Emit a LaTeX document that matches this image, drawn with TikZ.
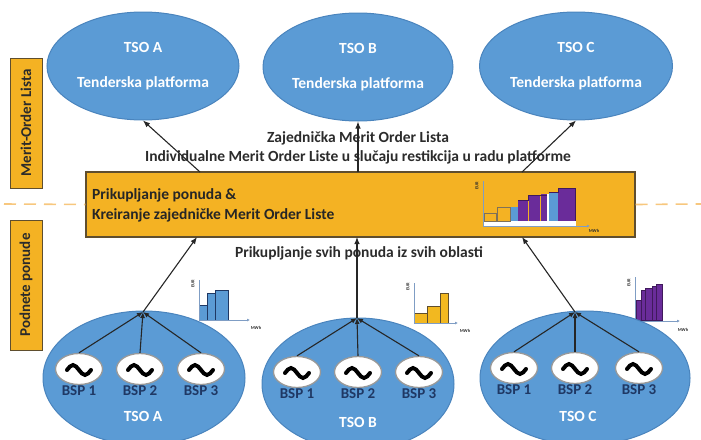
\documentclass[tikz,border=0pt]{standalone}
\usepackage{fontspec}
\setmainfont{Carlito}
\usetikzlibrary{shapes.geometric,arrows.meta}
\definecolor{tsoblue}{HTML}{5B9BD5}
\definecolor{tsoedge}{HTML}{4A84BD}
\definecolor{molorange}{HTML}{F4B223}
\definecolor{moledge}{HTML}{5F4E2E}
\definecolor{bidpurple}{HTML}{6A2C9A}
\definecolor{bidblue}{HTML}{5B9BD5}
\definecolor{bidyellow}{HTML}{F2B820}
\definecolor{bsptext}{HTML}{1F3864}
\definecolor{dashorange}{HTML}{F7C77E}
\definecolor{inktext}{HTML}{2B2B2B}
\definecolor{axisblue}{HTML}{7F9DC4}

\begin{document}
\begin{tikzpicture}[x=1pt,y=-1pt,
    tso/.style={ellipse, fill=tsoblue, draw=tsoedge, line width=1pt, inner sep=0pt,
        text=white, align=center, font=\fontsize{15.5}{17}\selectfont\bfseries},
    areaname/.style={text=white, inner sep=0pt, font=\fontsize{15.5}{17}\selectfont\bfseries},
    bsp/.style={ellipse, fill=white, draw=black!40, line width=1.3pt, inner sep=0pt,
        minimum width=47pt, minimum height=31pt},
    bsplabel/.style={text=bsptext, inner sep=0pt, font=\fontsize{15}{16}\selectfont\bfseries},
    tilde/.style={line width=4pt, line cap=round},
    sidebox/.style={rotate=90, fill=molorange, draw=moledge, line width=1pt,
        minimum width=130pt, minimum height=32pt, inner sep=0pt, text=inktext,
        font=\fontsize{15}{16}\selectfont\bfseries},
    note/.style={text=inktext, inner sep=0pt, font=\fontsize{15.5}{17}\selectfont\bfseries},
    flow/.style={draw=black!85, line width=1.1pt, -{Latex[length=7pt,width=5.5pt]}},
    feed/.style={draw=black!85, line width=1.1pt, -{Latex[length=6pt,width=5pt]}},
    axis/.style={draw=axisblue, line width=0.6pt},
    axislabel/.style={text=inktext, inner sep=0pt, font=\fontsize{4.5}{5}\selectfont\bfseries},
    bar/.style={line width=0.6pt}
]
\useasboundingbox (0,0) rectangle (701,439);
\clip (0,0) rectangle (701,439);

% platforme
\node[tso, minimum width=192pt, minimum height=108pt] (topA) at (143,66) {TSO A\\[18pt]Tenderska platforma};
\node[tso, minimum width=190pt, minimum height=108pt] (topB) at (358,67) {TSO B\\[18pt]Tenderska platforma};
\node[tso, minimum width=193pt, minimum height=108pt] (topC) at (576,66) {TSO C\\[18pt]Tenderska platforma};

% bocne oznake
\node[sidebox] (sideMOL) at (26,123) {Merit-Order Lista};
\node[sidebox] (sidePON) at (26,285) {Podnete ponude};

% zajednicka lista
\node[fill=molorange, draw=moledge, line width=1.2pt, minimum width=549pt, minimum height=65pt] (mol) at (360.5,204.5) {};
\coordinate (dashL) at (4,204);
\coordinate (dashR) at (701,204);
\draw[dashorange, line width=1.6pt, dash pattern=on 12pt off 8pt] (dashL) -- (mol.west);
\draw[dashorange, line width=1.6pt, dash pattern=on 12pt off 8pt] (mol.east) -- (dashR);
\node[note, anchor=west, align=left, font=\fontsize{15.5}{20}\selectfont\bfseries, text=black!85] (molText) at (92,205)
    {Prikupljanje ponuda \&\\Kreiranje zajedničke Merit Order Liste};

\node[note] (molHead) at (358,138) {Zajednička Merit Order Lista};
\node[note] (molSub) at (358,157) {Individualne Merit Order Liste u slučaju restikcija u radu platforme};
\node[note] (collect) at (359,253) {Prikupljanje svih ponuda iz svih oblasti};

% merit order u kutiji
\fill[white] (483,221) rectangle (576,226);
\draw[bar, draw=moledge!80] (484,213) rectangle (496,221);
\draw[bar, draw=moledge!80] (497,207) rectangle (510,221);
\fill[bidblue] (511,207) rectangle (518,221);
\fill[bidpurple] (518,200) rectangle (528,221);
\fill[bidpurple] (529,195) rectangle (540,221);
\fill[bidpurple] (540.5,194) rectangle (547,221);
\fill[white] (547,194) rectangle (549,221);
\fill[bidblue] (549,192) rectangle (558,221);
\fill[bidpurple] (558,188) rectangle (575,221);
\draw[bar, draw=bidpurple!60!black] (518,200) -- (528,200) -- (528,195) -- (547,195);
\draw[bar, draw=bidpurple!60!black] (549,192) -- (558,192) -- (558,188) -- (575,188) -- (575,221);
\draw[axis] (483,181) -- (483,226) -- (588,226);
\draw[axis, -{Latex[length=3pt,width=3pt]}] (580,226) -- (590,226);
\node[axislabel, rotate=90] (molEUR) at (477,186) {EUR};
\node[axislabel] (molMWh) at (594,231) {MWh};

% ponude TSO A
\draw[bar, fill=bidblue, draw=bsptext] (199,305) rectangle (207,320);
\draw[bar, fill=bidblue, draw=bsptext] (207,293) rectangle (215,320);
\draw[bar, fill=bidblue, draw=bsptext] (215,290) rectangle (228,320);
\draw[axis] (199,280) -- (199,320) -- (242,320);
\draw[axis, -{Latex[length=3pt,width=3pt]}] (242,320) -- (250,320);
\node[axislabel, rotate=90] (bidAEUR) at (193,284) {EUR};
\node[axislabel] (bidAMWh) at (256,328) {MWh};

% ponude TSO B
\draw[bar, fill=bidyellow, draw=moledge] (414,313) rectangle (427,323);
\draw[bar, fill=bidyellow, draw=moledge] (427,306) rectangle (440,323);
\draw[bar, fill=bidyellow, draw=moledge] (440,293) rectangle (448,323);
\draw[axis] (414,283) -- (414,323) -- (450,323);
\draw[axis, -{Latex[length=3pt,width=3pt]}] (450,323) -- (458,323);
\node[axislabel, rotate=90] (bidBEUR) at (408,287) {EUR};
\node[axislabel] (bidBMWh) at (465,331) {MWh};

% ponude TSO C
\draw[bar, fill=bidpurple, draw=bidpurple!60!black] (636,300) rectangle (641,320);
\draw[bar, fill=bidpurple, draw=bidpurple!60!black] (641,290) rectangle (645,320);
\draw[bar, fill=bidpurple, draw=bidpurple!60!black] (645,288) rectangle (652,320);
\draw[bar, fill=bidpurple, draw=bidpurple!60!black] (652,286) rectangle (656,320);
\draw[bar, fill=bidpurple, draw=bidpurple!60!black] (656,284) rectangle (662,320);
\draw[axis] (635,277) -- (635,321) -- (672,321);
\draw[axis, -{Latex[length=3pt,width=3pt]}] (672,321) -- (680,321);
\node[axislabel, rotate=90] (bidCEUR) at (629,283) {EUR};
\node[axislabel] (bidCMWh) at (683,330) {MWh};

% oblasti
\node[tso, minimum width=202pt, minimum height=134pt] (areaA) at (144,378) {};
\node[tso, minimum width=192pt, minimum height=132pt] (areaB) at (358,384) {};
\node[tso, minimum width=210pt, minimum height=134pt] (areaC) at (585,378) {};
\node[areaname] (areaAName) at (143,416) {TSO A};
\node[areaname] (areaBName) at (358,422) {TSO B};
\node[areaname] (areaCName) at (578,416) {TSO C};

\node[bsp, label={[bsplabel]below:BSP 1}] (a1) at (79,369) {};
\node[bsp, label={[bsplabel]below:BSP 2}] (a2) at (140,369) {};
\node[bsp, label={[bsplabel]below:BSP 3}] (a3) at (201,369) {};
\node[bsp, label={[bsplabel]below:BSP 1}] (b1) at (297,372) {};
\node[bsp, label={[bsplabel]below:BSP 2}] (b2) at (358,372) {};
\node[bsp, label={[bsplabel]below:BSP 3}] (b3) at (419,372) {};
\node[bsp, label={[bsplabel]below:BSP 1}] (c1) at (514,368) {};
\node[bsp, label={[bsplabel]below:BSP 2}] (c2) at (575,368) {};
\node[bsp, label={[bsplabel]below:BSP 3}] (c3) at (639,368) {};

\draw[tilde] ([shift={(-12,1)}]a1.center) sin ++(6,-5) cos ++(6,5) sin ++(6,5) cos ++(6,-5);
\draw[tilde] ([shift={(-12,1)}]a2.center) sin ++(6,-5) cos ++(6,5) sin ++(6,5) cos ++(6,-5);
\draw[tilde] ([shift={(-12,1)}]a3.center) sin ++(6,-5) cos ++(6,5) sin ++(6,5) cos ++(6,-5);
\draw[tilde] ([shift={(-12,1)}]b1.center) sin ++(6,-5) cos ++(6,5) sin ++(6,5) cos ++(6,-5);
\draw[tilde] ([shift={(-12,1)}]b2.center) sin ++(6,-5) cos ++(6,5) sin ++(6,5) cos ++(6,-5);
\draw[tilde] ([shift={(-12,1)}]b3.center) sin ++(6,-5) cos ++(6,5) sin ++(6,5) cos ++(6,-5);
\draw[tilde] ([shift={(-12,1)}]c1.center) sin ++(6,-5) cos ++(6,5) sin ++(6,5) cos ++(6,-5);
\draw[tilde] ([shift={(-12,1)}]c2.center) sin ++(6,-5) cos ++(6,5) sin ++(6,5) cos ++(6,-5);
\draw[tilde] ([shift={(-12,1)}]c3.center) sin ++(6,-5) cos ++(6,5) sin ++(6,5) cos ++(6,-5);

\coordinate (hubA) at (143,312);
\coordinate (hubB) at (357,318);
\coordinate (hubC) at (575,312);
\draw[feed] (a1.north) -- (hubA);
\draw[feed] (a2.north) -- (hubA);
\draw[feed] (a3.north) -- (hubA);
\draw[feed] (b1.north) -- (hubB);
\draw[feed] (b2.north) -- (hubB);
\draw[feed] (b3.north) -- (hubB);
\draw[feed] (c1.north) -- (hubC);
\draw[feed] (c2.north) -- (hubC);
\draw[feed] (c3.north) -- (hubC);

% tokovi ponuda
\coordinate (inA) at (197,237);
\coordinate (inB) at (357,237);
\coordinate (inC) at (522,237);
\coordinate (outA) at (200,172);
\coordinate (outB) at (358,172);
\coordinate (outC) at (522,172);
\draw[flow] (hubA) -- (inA);
\draw[flow] (hubB) -- (inB);
\draw[flow] (hubC) -- (inC);
\draw[flow] (outA) -- (topA.south);
\draw[flow] (outB) -- (topB.south);
\draw[flow] (outC) -- (topC.south);
\end{tikzpicture}
\end{document}
